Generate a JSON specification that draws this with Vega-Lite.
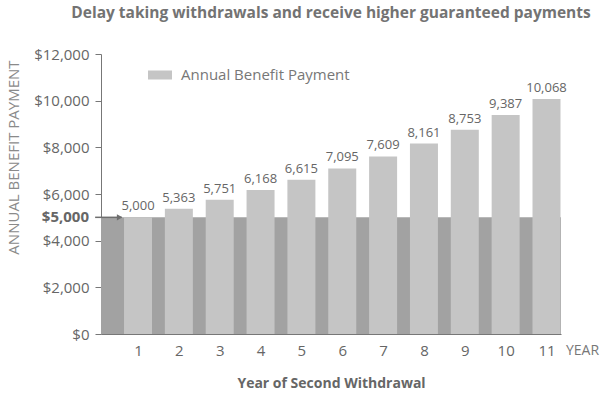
{
  "$schema": "https://vega.github.io/schema/vega-lite/v6.json",
  "width": 460,
  "height": 280,
  "autosize": {"type": "none"},
  "padding": {"left": 101, "top": 54, "right": 42, "bottom": 60},
  "background": "white",
  "config": {
    "font": "Open Sans",
    "view": {"stroke": null},
    "axis": {"labelColor": "#666666", "titleColor": "#666666", "domainColor": "#777777", "tickColor": "#777777", "grid": false}
  },
  "title": {
    "text": "Delay taking withdrawals and receive higher guaranteed payments",
    "fontSize": 15.5,
    "fontWeight": "bold",
    "color": "#737373",
    "anchor": "middle",
    "offset": 26
  },
  "datasets": {
    "payments": [
      {"year": 1, "payment": 5000, "series": "Annual Benefit Payment"},
      {"year": 2, "payment": 5363, "series": "Annual Benefit Payment"},
      {"year": 3, "payment": 5751, "series": "Annual Benefit Payment"},
      {"year": 4, "payment": 6168, "series": "Annual Benefit Payment"},
      {"year": 5, "payment": 6615, "series": "Annual Benefit Payment"},
      {"year": 6, "payment": 7095, "series": "Annual Benefit Payment"},
      {"year": 7, "payment": 7609, "series": "Annual Benefit Payment"},
      {"year": 8, "payment": 8161, "series": "Annual Benefit Payment"},
      {"year": 9, "payment": 8753, "series": "Annual Benefit Payment"},
      {"year": 10, "payment": 9387, "series": "Annual Benefit Payment"},
      {"year": 11, "payment": 10068, "series": "Annual Benefit Payment"}
    ],
    "base": [{"base": 5000, "label": "$5,000"}]
  },
  "layer": [
    {
      "data": {"name": "base"},
      "mark": {"type": "rect", "color": "#a2a2a2"},
      "encoding": {
        "y": {"field": "base", "type": "quantitative"},
        "y2": {"datum": 0}
      }
    },
    {
      "data": {"name": "payments"},
      "mark": {"type": "bar", "size": 28},
      "encoding": {
        "x": {
          "field": "year",
          "type": "quantitative",
          "scale": {"domain": [0.094, 11.355], "nice": false, "zero": false, "padding": 0},
          "axis": {
            "values": [1, 2, 3, 4, 5, 6, 7, 8, 9, 10, 11],
            "ticks": false,
            "labelFontSize": 15,
            "labelPadding": 9,
            "title": "Year of Second Withdrawal",
            "titleFontSize": 14,
            "titleFontWeight": "bold",
            "titlePadding": 18
          }
        },
        "y": {
          "field": "payment",
          "type": "quantitative",
          "scale": {"domain": [0, 12000], "nice": false},
          "axis": {
            "values": [0, 2000, 4000, 6000, 8000, 10000, 12000],
            "format": "$,.0f",
            "labelFontSize": 15,
            "tickSize": 6,
            "labelPadding": 6,
            "title": "ANNUAL BENEFIT PAYMENT",
            "titleFontSize": 15,
            "titleFontWeight": "normal",
            "titleColor": "#8a8a8a",
            "titlePadding": 12,
            "titleY": 103
          }
        },
        "color": {
          "field": "series",
          "type": "nominal",
          "scale": {"range": ["#c5c5c5"]},
          "legend": {
            "title": null,
            "orient": "none",
            "legendX": 47,
            "legendY": 9,
            "padding": 0,
            "symbolType": "M-1,-0.375L1,-0.375L1,0.375L-1,0.375Z",
            "symbolSize": 576,
            "symbolStrokeWidth": 0,
            "labelFontSize": 15,
            "labelLimit": 400,
            "labelColor": "#777777",
            "labelOffset": 9
          }
        }
      }
    },
    {
      "data": {"name": "payments"},
      "mark": {"type": "text", "baseline": "bottom", "dy": -4, "fontSize": 13, "color": "#666666"},
      "encoding": {
        "x": {"field": "year", "type": "quantitative"},
        "y": {"field": "payment", "type": "quantitative"},
        "text": {"field": "payment", "type": "quantitative", "format": ",.0f"}
      }
    },
    {
      "data": {"name": "base"},
      "mark": {"type": "rule", "color": "#6e6e6e", "strokeWidth": 1.5},
      "encoding": {
        "x": {"datum": -0.05, "type": "quantitative"},
        "x2": {"datum": 0.6},
        "y": {"field": "base", "type": "quantitative"}
      }
    },
    {
      "data": {"name": "base"},
      "mark": {"type": "point", "shape": "triangle-right", "filled": true, "size": 40, "color": "#6e6e6e", "opacity": 1},
      "encoding": {
        "x": {"datum": 0.55, "type": "quantitative"},
        "y": {"field": "base", "type": "quantitative"}
      }
    },
    {
      "data": {"name": "base"},
      "mark": {"type": "text", "align": "right", "baseline": "middle", "dx": -12, "fontSize": 15, "fontWeight": "bold", "color": "#666666"},
      "encoding": {
        "x": {"datum": 0.094, "type": "quantitative"},
        "y": {"field": "base", "type": "quantitative"},
        "text": {"field": "label"}
      }
    },
    {
      "data": {"values": [{"t": "YEAR"}]},
      "mark": {"type": "text", "align": "left", "baseline": "top", "dx": 5, "dy": 10, "fontSize": 14, "color": "#777777"},
      "encoding": {
        "x": {"datum": 11.355, "type": "quantitative"},
        "y": {"datum": 0, "type": "quantitative"},
        "text": {"field": "t"}
      }
    }
  ]
}
